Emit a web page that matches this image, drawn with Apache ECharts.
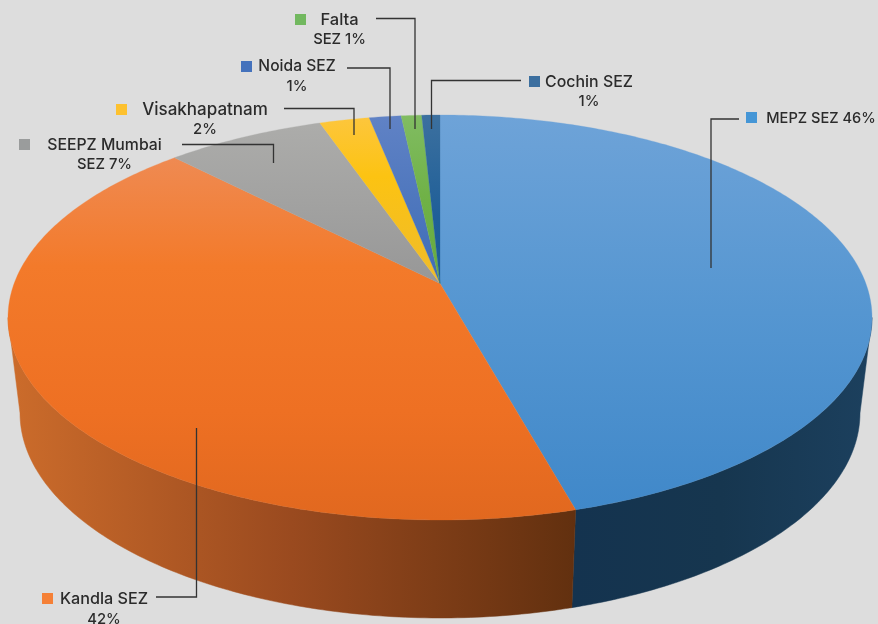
<!DOCTYPE html>
<html><head><meta charset="utf-8">
<style>html,body{margin:0;padding:0;background:#ddd}#c{width:878px;height:624px}</style>
<script src="https://cdn.jsdelivr.net/npm/echarts@6/dist/echarts.min.js"></script>
</head><body><div id="c"></div>
<script>
// Data, clockwise from 12 o'clock
const categories = ['MEPZ SEZ','Kandla SEZ','SEEPZ Mumbai SEZ','Visakhapatnam','Noida SEZ','Falta SEZ','Cochin SEZ'];
const shares = [45.7,42.0,7.0,2.2,1.4,0.9,0.8];
const labelLine1 = ['MEPZ SEZ 46%','Kandla SEZ','SEEPZ Mumbai','Visakhapatnam','Noida SEZ','Falta','Cochin SEZ'];
const labelLine2 = ['','42%','SEZ 7%','2%','1%','SEZ 1%','1%'];
const legendColors = ['#4596d6','#f58036','#9a9c9c','#fdc12f','#4472bc','#72b85f','#3c6f9f'];

// Styles: top-face gradient [y0, y1, stops]
const topFill = [
 [115,510,[[0,'#6ea3d8'],[0.5,'#5596d1'],[1,'#4088c9']]],
 [158,520,[[0,'#ef8a52'],[0.3,'#f37a2a'],[0.7,'#ee7023'],[1,'#e1681f']]],
 [125,285,[[0,'#acacaa'],[1,'#979797']]],
 [118,285,[[0,'#fdc63c'],[0.35,'#fcc312'],[1,'#eebb2c']]],
 [116,285,[[0,'#6082c5'],[1,'#3d6cb6']]],
 [115,285,[[0,'#81bc62'],[0.5,'#6fb146'],[1,'#66aa40']]],
 [115,285,[[0,'#3c709f'],[0.6,'#1f5f98'],[1,'#1c5c95']]]
];
const sideStops = [
 ['#14334f','#16364f','#1c405e'],
 ['#cc6c2b','#9a4a1f','#62300f'],
 ['#777','#777'],['#a58','#a58'],['#446','#446'],['#464','#464'],['#135','#135']
];

// Layout of the tilted disc
const cx = 440, topCy = 317.5, topRx = 432, topRy = 202.5, persp = 0.168;
const botCy = 413, botRx = 420, botRy = 205;
const layout = [ // square x,y ; text centre x ; text y1,y2 ; font size ; leader polyline
 {sq:[746,112],tx:821,ty:[118.5,0],fs:14.6,line:[[739,119],[711,119],[711,268]]},
 {sq:[42,593],tx:104,ty:[599,620],fs:16.2,line:[[156,597],[196.5,597],[196.5,428]]},
 {sq:[19,139],tx:104.5,ty:[145,165],fs:15.8,line:[[182,144.5],[273.5,144.5],[273.5,163]]},
 {sq:[116,104],tx:205,ty:[110,130],fs:17,line:[[284,108.5],[354,108.5],[354,135]]},
 {sq:[241,61],tx:297,ty:[66,87],fs:15.6,line:[[347,68],[390,68],[390,129]]},
 {sq:[295,14],tx:339.5,ty:[20,40],fs:16.5,line:[[376,18.5],[415,18.5],[415,129]]},
 {sq:[529,76],tx:589,ty:[82,102],fs:15.9,line:[[521,80.5],[431.5,80.5],[431.5,129]]}
];

const total = shares.reduce((a,b)=>a+b,0);
const k = persp, q = Math.sqrt(1-k*k);
function proj(a,cy,rx,ry){ // a: degrees clockwise from top
  const r=a*Math.PI/180,u=Math.sin(r),v=-Math.cos(r),w=1-k*v;
  return [cx+rx*q*u/w, cy+ry*(v-k)/w];
}
const apex=[cx,topCy-topRy*k];
const visFrom=Math.acos(-k)*180/Math.PI, visTo=360-visFrom;
function arc(a0,a1,cy,rx,ry){
  const n=Math.max(2,Math.ceil((a1-a0)/0.75)),pts=[];
  for(let i=0;i<=n;i++)pts.push(proj(a0+(a1-a0)*i/n,cy,rx,ry));
  return pts;
}
function grad(x,y,x2,y2,st){
  return {type:'linear',x,y,x2,y2,global:true,colorStops:st.map(s=>({offset:s[0],color:s[1]}))};
}
const starts=[];let acc=0;shares.forEach(s=>{starts.push(acc);acc+=s/total*360;});

function renderSlice(params,api){
  const i=params.dataIndex,a0=starts[i],a1=a0+api.value(0)/total*360,ch=[];
  const s0=Math.max(a0,visFrom),s1=Math.min(a1,visTo);
  if(s1>s0){
    const up=arc(s0,s1,topCy,topRx,topRy),lo=arc(s0,s1,botCy,botRx,botRy).reverse();
    const xs=up.concat(lo).map(p=>p[0]);
    const xa=Math.min.apply(null,xs),xb=Math.max.apply(null,xs);
    const st=sideStops[i].map((c,j,arr)=>[j/(arr.length-1),c]);
    const g=grad(xa,0,xb,0,st);
    ch.push({type:'polygon',shape:{points:up.concat(lo)},style:{fill:g,stroke:g,lineWidth:0.5}});
  }
  const T=topFill[i],g2=grad(0,T[0],0,T[1],T[2]);
  ch.push({type:'polygon',shape:{points:[apex].concat(arc(a0,a1,topCy,topRx,topRy))},style:{fill:g2,stroke:g2,lineWidth:0.3}});
  return {type:'group',children:ch};
}
const font='Inter, "Open Sans", sans-serif';
function txt(x,y,t,fs){return {type:'text',style:{x,y,text:t,fill:'#2b2b2b',font:'500 '+fs+'px '+font,textAlign:'center',textVerticalAlign:'middle'}};}
function renderLabel(params){
  const i=params.dataIndex,L=layout[i],ch=[];
  ch.push({type:'polyline',shape:{points:L.line},style:{fill:'none',stroke:'#333',lineWidth:1.3}});
  ch.push({type:'rect',shape:{x:L.sq[0],y:L.sq[1],width:11,height:11},style:{fill:legendColors[i]}});
  ch.push(txt(L.tx,L.ty[0],labelLine1[i],L.fs));
  if(labelLine2[i])ch.push(txt(L.tx,L.ty[1],labelLine2[i],14.8));
  return {type:'group',children:ch};
}
const chart=echarts.init(document.getElementById('c'),null,{renderer:'canvas'});
chart.setOption({
  backgroundColor:'#dddddd',animation:false,
  series:[
    {type:'custom',name:'share',coordinateSystem:'none',renderItem:renderSlice,silent:true,z:1,
     data:categories.map((c,i)=>({name:c,value:[shares[i]]}))},
    {type:'custom',name:'labels',coordinateSystem:'none',renderItem:renderLabel,silent:true,z:2,
     data:categories.map((c,i)=>({name:c,value:[shares[i]]}))}
  ]
});
</script></body></html>
